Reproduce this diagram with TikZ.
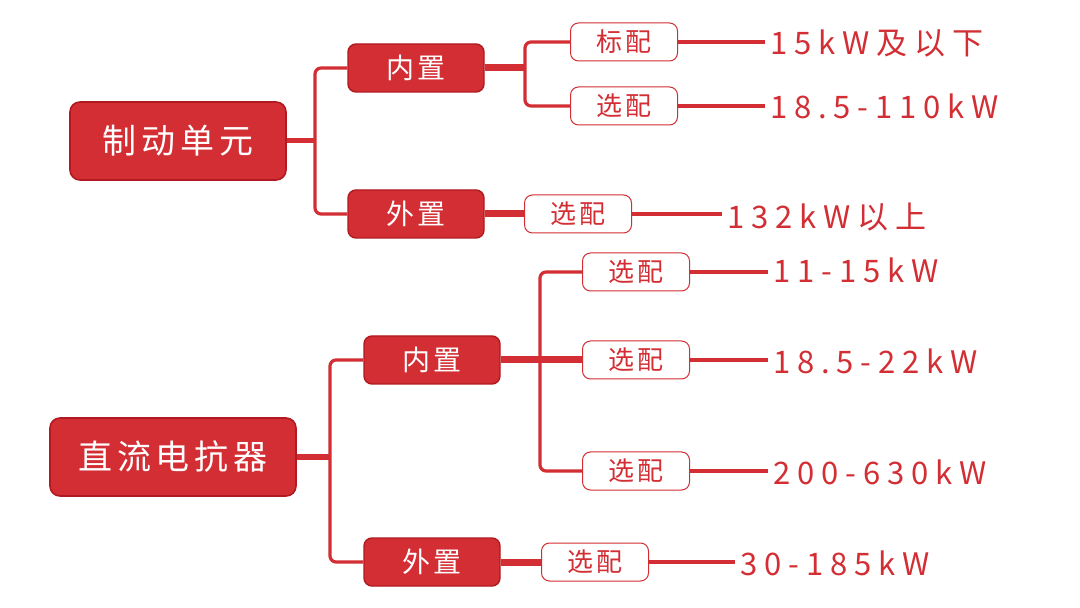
\documentclass[tikz,border=0pt]{standalone}
\usepackage{fontspec}
\setmainfont{Noto Sans CJK SC}
\newfontfamily\valfont[LetterSpace=22]{Noto Sans CJK SC}
\newfontfamily\boxfont[LetterSpace=14]{Noto Sans CJK SC}
\usepackage{tikz}
\definecolor{brandred}{RGB}{210,46,52}
\definecolor{darkred}{RGB}{176,26,32}
\tikzset{
  rootbox/.style={draw=darkred, line width=0.8pt, fill=brandred, rounded corners=5pt, text=white,
    minimum width=108pt, minimum height=39pt, inner sep=0pt, font=\boxfont\fontsize{17}{19}\selectfont},
  midbox/.style={draw=darkred, line width=0.7pt, fill=brandred, rounded corners=4pt, text=white,
    minimum width=68pt, minimum height=24pt, inner sep=0pt, font=\boxfont\fontsize{14}{16}\selectfont},
  optbox/.style={draw=brandred, line width=0.5pt, fill=white, rounded corners=4pt, text=brandred,
    minimum width=53.5pt, minimum height=19pt, inner sep=0pt, font=\boxfont\fontsize{13}{15}\selectfont},
  valtext/.style={anchor=west, inner sep=2.5pt, text=brandred, font=\valfont\fontsize{15.5}{17}\selectfont},
  trunk/.style={brandred, line width=2.5pt},
  branch/.style={brandred, line width=1.6pt, rounded corners=3pt},
  thicklink/.style={brandred, line width=3.5pt},
  leaf/.style={brandred, line width=2pt}
}
\begin{document}
\begin{tikzpicture}[x=0.5pt, y=-0.5pt]
    \useasboundingbox[fill=white] (0,0) rectangle (1080,608);
%   制动单元
    \node[rootbox] (brake) at (178,141) {制动单元};
    \node[midbox] (brakein) at (416,68) {内置};
    \node[midbox] (brakeout) at (416,214) {外置};
    \node[optbox] (bstd) at (624,42) {标配};
    \node[optbox] (bopt) at (624,106) {选配};
    \node[optbox] (bext) at (578,214) {选配};
    \node[valtext] (bval1) at (765,43) {15kW及以下};
    \node[valtext] (bval2) at (765,106) {18.5-110kW};
    \node[valtext] (bval3) at (722,217) {132kW以上};
    \coordinate (bj) at (315,141);
    \coordinate (bfork) at (525,68);
    \draw[trunk] (brake.east) -- (bj);
    \draw[branch] (brakein.west) -| (bj) |- (brakeout.west);
    \draw[thicklink] (brakein.east) -- (bfork);
    \draw[branch] (bstd.west) -| (bfork) |- (bopt.west);
    \draw[thicklink] (brakeout.east) -- (bext.west);
    \draw[leaf] (bstd.east) -- (bstd.east -| bval1.west);
    \draw[leaf] (bopt.east) -- (bopt.east -| bval2.west);
    \draw[leaf] (bext.east) -- (bext.east -| bval3.west);
%   直流电抗器
    \node[rootbox, minimum width=123pt] (reactor) at (173,457) {直流电抗器};
    \node[midbox] (reacin) at (432,360) {内置};
    \node[midbox] (reacout) at (432,562) {外置};
    \node[optbox] (ropt1) at (636,272) {选配};
    \node[optbox] (ropt2) at (636,360) {选配};
    \node[optbox] (ropt3) at (636,471) {选配};
    \node[optbox] (rext) at (595,562) {选配};
    \node[valtext] (rval1) at (768,270) {11-15kW};
    \node[valtext] (rval2) at (768,361) {18.5-22kW};
    \node[valtext] (rval3) at (768,472) {200-630kW};
    \node[valtext] (rval4) at (735,563) {30-185kW};
    \coordinate (rj) at (330,457);
    \coordinate (rfork) at (540,360);
    \draw[trunk] (reactor.east) -- (rj);
    \draw[branch] (reacin.west) -| (rj) |- (reacout.west);
    \draw[thicklink] (reacin.east) -- (ropt2.west);
    \draw[branch] (ropt1.west) -| (rfork) |- (ropt3.west);
    \draw[thicklink] (reacout.east) -- (rext.west);
    \draw[leaf] (ropt1.east) -- (ropt1.east -| rval1.west);
    \draw[leaf] (ropt2.east) -- (ropt2.east -| rval2.west);
    \draw[leaf] (ropt3.east) -- (ropt3.east -| rval3.west);
    \draw[leaf] (rext.east) -- (rext.east -| rval4.west);
\end{tikzpicture}
\end{document}
